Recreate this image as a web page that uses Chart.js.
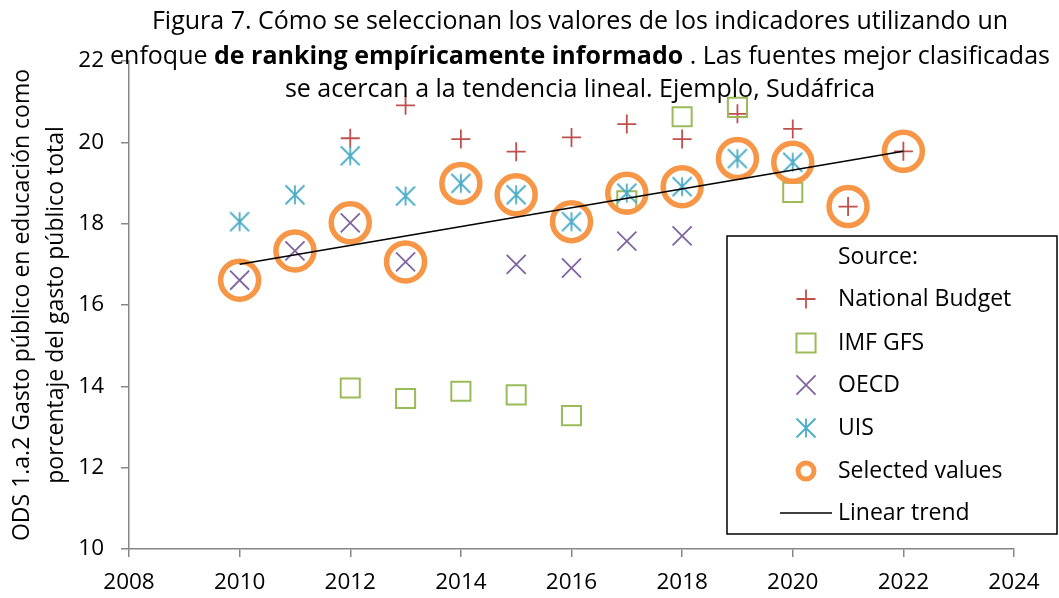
<!DOCTYPE html>
<html>
<head>
<meta charset="utf-8">
<script src="https://cdn.jsdelivr.net/npm/chart.js@4.4.0/dist/chart.umd.min.js"></script>
<style>
    html, body { margin: 0; padding: 0; background: #fff; }
    #wrap { width: 1059px; height: 598px; }
</style>
</head>
<body>
<div id="wrap"><canvas id="chart" width="1059" height="598"></canvas></div>
<script>
// values (null = no value for that year)
const years = [2010, 2011, 2012, 2013, 2014, 2015, 2016, 2017, 2018, 2019, 2020, 2021, 2022];
const nationalBudget = [null, null, 20.10, 20.91, 20.08, 19.77, 20.12, 20.45, 20.08, 20.70, 20.33, 18.42, 19.78];
const imfGfs = [null, null, 13.96, 13.70, 13.88, 13.79, 13.28, 18.56, 20.63, 20.86, 18.77, null, null];
const oecd = [16.61, 17.33, 18.02, 17.06, null, 17.00, 16.91, 17.57, 17.70, null, null, null, null];
const uis = [18.05, 18.71, 19.67, 18.68, 18.99, 18.71, 18.05, 18.75, 18.91, 19.60, 19.51, null, null];
const selectedValues = [16.61, 17.33, 18.02, 17.06, 18.99, 18.71, 18.05, 18.75, 18.91, 19.60, 19.51, 18.42, 19.78];
const trendYears = [2010, 2022];
const trendValues = [17.0, 19.78];

const xTicks = [2008, 2010, 2012, 2014, 2016, 2018, 2020, 2022, 2024];
const yTicks = [10, 12, 14, 16, 18, 20, 22];

const seriesLabels = ['National Budget', 'IMF GFS', 'OECD', 'UIS', 'Selected values', 'Linear trend'];
const legendTitle = 'Source:';
const yTitle = ['ODS 1.a.2 Gasto público en educación como', 'porcentaje del gasto público total'];
const titleLines = [
    [{ t: 'Figura 7. Cómo se seleccionan los valores de los indicadores utilizando un', b: false }],
    [{ t: 'enfoque ', b: false }, { t: 'de ranking empíricamente informado', b: true }, { t: ' . Las fuentes mejor clasificadas', b: false }],
    [{ t: 'se acercan a la tendencia lineal. Ejemplo, Sudáfrica', b: false }]
];

const FONT = '"Open Sans", Lato, sans-serif';
const axisGrey = '#868686';

function toPoints(xs, ys) {
    return xs.map((x, i) => ({ x: x, y: ys[i] })).filter(p => p.y !== null);
}

// excel style asterisk marker: X plus vertical bar
function makeAsterisk(size, color, lw) {
    const c = document.createElement('canvas');
    c.width = size;
    c.height = size;
    const g = c.getContext('2d');
    g.strokeStyle = color;
    g.lineWidth = lw;
    const m = size / 2, r = size / 2 - 1.5;
    g.beginPath();
    g.moveTo(m, m - r); g.lineTo(m, m + r);
    g.moveTo(m - r, m - r); g.lineTo(m + r, m + r);
    g.moveTo(m + r, m - r); g.lineTo(m - r, m + r);
    g.stroke();
    return c;
}
const uisMarker = makeAsterisk(22, '#4BACC6', 1.8);

// title with a bold part in the middle line
const titlePlugin = {
    id: 'richTitle',
    afterDraw(chart) {
        const ctx = chart.ctx;
        const centerX = 580;
        const ys = [22, 57, 90];
        const size = 25;
        ctx.save();
        ctx.fillStyle = '#000';
        ctx.textBaseline = 'middle';
        ctx.textAlign = 'left';
        titleLines.forEach((parts, li) => {
            let total = 0;
            parts.forEach(p => {
                ctx.font = (p.b ? 'bold ' : '') + size + 'px ' + FONT;
                total += ctx.measureText(p.t).width;
            });
            let x = centerX - total / 2;
            parts.forEach(p => {
                ctx.font = (p.b ? 'bold ' : '') + size + 'px ' + FONT;
                ctx.fillText(p.t, x, ys[li]);
                x += ctx.measureText(p.t).width;
            });
        });
        ctx.restore();
    }
};

// boxed legend sitting inside the plot
const legendPlugin = {
    id: 'boxLegend',
    afterDraw(chart) {
        const ctx = chart.ctx;
        const box = { l: 727, t: 236, r: 1057, b: 534 };
        const markerX = 806, textX = 838;
        const rowY = [299, 343, 385, 428, 471, 513];
        ctx.save();
        ctx.fillStyle = '#fff';
        ctx.fillRect(box.l, box.t, box.r - box.l, box.b - box.t);
        ctx.strokeStyle = '#000';
        ctx.lineWidth = 1.5;
        ctx.strokeRect(box.l, box.t, box.r - box.l, box.b - box.t);

        ctx.font = '23px ' + FONT;
        ctx.fillStyle = '#000';
        ctx.textBaseline = 'middle';
        ctx.fillText(legendTitle, textX, 257);

        chart.data.datasets.forEach((ds, i) => {
            const y = rowY[i];
            ctx.save();
            if (ds.showLine) {
                ctx.strokeStyle = ds.borderColor;
                ctx.lineWidth = ds.borderWidth;
                ctx.beginPath();
                ctx.moveTo(780, y);
                ctx.lineTo(832, y);
                ctx.stroke();
            } else {
                ctx.strokeStyle = ds.borderColor;
                ctx.fillStyle = 'rgba(0,0,0,0)';
                const isRing = ds.pointStyle === 'circle';
                ctx.lineWidth = isRing ? 5 : ds.pointBorderWidth;
                Chart.helpers.drawPoint(ctx, {
                    pointStyle: ds.pointStyle,
                    rotation: 0,
                    radius: isRing ? 8 : ds.legendRadius,
                    borderWidth: ctx.lineWidth
                }, markerX, y);
            }
            ctx.restore();
            ctx.fillStyle = '#000';
            ctx.font = '23px ' + FONT;
            ctx.textBaseline = 'middle';
            ctx.fillText(ds.label, textX, y);
        });
        ctx.restore();
    }
};

const ctx = document.getElementById('chart').getContext('2d');
new Chart(ctx, {
    type: 'scatter',
    data: {
        datasets: [
            {
                label: seriesLabels[0],
                data: toPoints(years, nationalBudget),
                pointStyle: 'cross',
                pointRadius: 9.5,
                legendRadius: 9.5,
                borderColor: '#C0504D',
                backgroundColor: 'rgba(0,0,0,0)',
                pointBorderWidth: 1.8,
                order: 5
            },
            {
                label: seriesLabels[1],
                data: toPoints(years, imfGfs),
                pointStyle: 'rect',
                pointRadius: 13.5,
                legendRadius: 13.5,
                borderColor: '#9BBB59',
                backgroundColor: 'rgba(0,0,0,0)',
                pointBorderWidth: 2,
                order: 4
            },
            {
                label: seriesLabels[2],
                data: toPoints(years, oecd),
                pointStyle: 'crossRot',
                pointRadius: 13.5,
                legendRadius: 13.5,
                borderColor: '#8064A2',
                backgroundColor: 'rgba(0,0,0,0)',
                pointBorderWidth: 1.8,
                order: 3
            },
            {
                label: seriesLabels[3],
                data: toPoints(years, uis),
                pointStyle: uisMarker,
                pointRadius: 11,
                legendRadius: 11,
                borderColor: '#4BACC6',
                backgroundColor: 'rgba(0,0,0,0)',
                pointBorderWidth: 1.8,
                order: 2
            },
            {
                label: seriesLabels[4],
                data: toPoints(years, selectedValues),
                pointStyle: 'circle',
                pointRadius: 19,
                borderColor: '#F79646',
                backgroundColor: 'rgba(0,0,0,0)',
                pointBorderWidth: 5.5,
                order: 1
            },
            {
                label: seriesLabels[5],
                data: toPoints(trendYears, trendValues),
                showLine: true,
                pointRadius: 0,
                borderColor: '#000',
                borderWidth: 1.6,
                order: 0
            }
        ]
    },
    options: {
        responsive: false,
        animation: false,
        devicePixelRatio: 1,
        events: [],
        layout: { padding: { top: 61, right: 45, left: 0, bottom: 0 } },
        plugins: {
            legend: { display: false },
            title: { display: false },
            tooltip: { enabled: false }
        },
        scales: {
            x: {
                type: 'linear',
                min: xTicks[0],
                max: xTicks[xTicks.length - 1],
                afterBuildTicks: (scale) => { scale.ticks = xTicks.map(v => ({ value: v })); },
                afterFit: (scale) => { scale.height = 49; },
                ticks: {
                    callback: (v) => String(v),
                    color: '#000',
                    font: { family: FONT, size: 22.5 },
                    padding: 12,
                    maxRotation: 0
                },
                grid: { drawOnChartArea: false, drawTicks: true, tickLength: 8, color: axisGrey, lineWidth: 1.5 },
                border: { color: axisGrey, width: 1.5 }
            },
            y: {
                type: 'linear',
                min: yTicks[0],
                max: yTicks[yTicks.length - 1],
                afterBuildTicks: (scale) => { scale.ticks = yTicks.map(v => ({ value: v })); },
                afterFit: (scale) => { scale.width = 129; },
                ticks: {
                    callback: (v) => String(v),
                    color: '#000',
                    font: { family: FONT, size: 22.5 },
                    padding: 17
                },
                grid: { drawOnChartArea: false, drawTicks: true, tickLength: 8, color: axisGrey, lineWidth: 1.5 },
                border: { color: axisGrey, width: 1.5 },
                title: {
                    display: true,
                    text: yTitle,
                    color: '#000',
                    font: { family: FONT, size: 23, lineHeight: 1.52 },
                    padding: { top: 4.5, bottom: 0 }
                }
            }
        }
    },
    plugins: [titlePlugin, legendPlugin]
});
</script>
</body>
</html>
